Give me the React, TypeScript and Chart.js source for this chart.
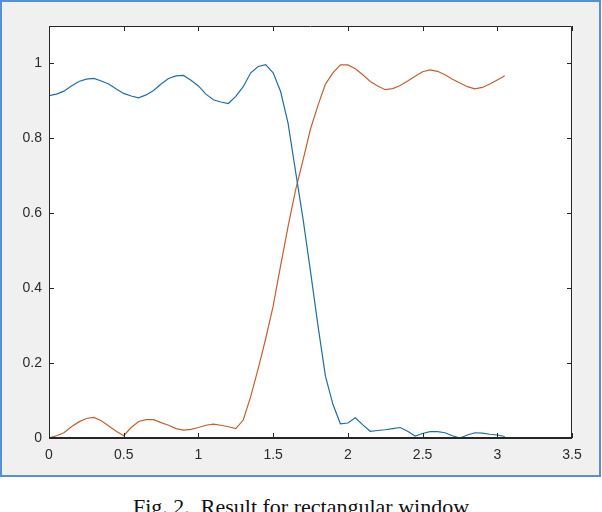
import React, { useEffect, useRef } from "react";
import { Chart, registerables } from "chart.js";

Chart.register(...registerables);

const xValues = [
  0.0, 0.05, 0.1, 0.15, 0.2, 0.25, 0.3, 0.35, 0.4, 0.45, 0.5, 0.55, 0.6, 0.65, 0.7, 0.75,
  0.8, 0.85, 0.9, 0.95, 1.0, 1.05, 1.1, 1.15, 1.2, 1.25, 1.3, 1.35, 1.4, 1.45, 1.5, 1.55,
  1.6, 1.65, 1.7, 1.75, 1.8, 1.85, 1.9, 1.95, 2.0, 2.05, 2.1, 2.15, 2.2, 2.25, 2.3, 2.35,
  2.4, 2.45, 2.5, 2.55, 2.6, 2.65, 2.7, 2.75, 2.8, 2.85, 2.9, 2.95, 3.0, 3.05,
];

const blueSeries = [
  0.914, 0.918, 0.926, 0.94, 0.952, 0.958, 0.96, 0.953, 0.945, 0.932, 0.92, 0.913, 0.908, 0.916, 0.928, 0.945,
  0.96, 0.967, 0.968, 0.955, 0.94, 0.918, 0.903, 0.897, 0.893, 0.912, 0.938, 0.975, 0.992, 0.997, 0.975, 0.925,
  0.84, 0.712, 0.585, 0.445, 0.3, 0.165, 0.09, 0.038, 0.04, 0.054, 0.035, 0.018, 0.02, 0.022, 0.025, 0.028,
  0.018, 0.005, 0.012, 0.017, 0.017, 0.014, 0.006, 0.0, 0.008, 0.014, 0.013, 0.01, 0.008, 0.004,
];

const orangeSeries = [
  0.0, 0.006, 0.014, 0.03, 0.043, 0.052, 0.055, 0.046, 0.032, 0.018, 0.006, 0.028, 0.044, 0.049, 0.049, 0.041,
  0.034, 0.025, 0.021, 0.023, 0.028, 0.034, 0.037, 0.034, 0.03, 0.025, 0.048, 0.111, 0.185, 0.265, 0.352, 0.46,
  0.565, 0.662, 0.742, 0.825, 0.888, 0.945, 0.975, 0.996, 0.996, 0.986, 0.97, 0.952, 0.94, 0.93, 0.933, 0.941,
  0.953, 0.966, 0.978, 0.983, 0.979, 0.97, 0.958, 0.948, 0.938, 0.932, 0.936, 0.945, 0.956, 0.967,
];

const xTicks = [0, 0.5, 1, 1.5, 2, 2.5, 3, 3.5];
const yTicks = [0, 0.2, 0.4, 0.6, 0.8, 1];
const caption = "Fig. 2.\u00a0\u00a0Result for rectangular window";

const boxPlugin = {
  id: "matlabBox",
  beforeDatasetsDraw(chart: any) {
    const { ctx, chartArea } = chart;
    ctx.save();
    ctx.fillStyle = "#ffffff";
    ctx.fillRect(chartArea.left, chartArea.top, chartArea.right - chartArea.left, chartArea.bottom - chartArea.top);
    ctx.restore();
  },
  afterDraw(chart: any) {
    const { ctx, chartArea } = chart;
    const { left, right, top, bottom } = chartArea;
    const xs = chart.scales.x;
    const ys = chart.scales.y;
    ctx.save();
    ctx.strokeStyle = "#262626";
    ctx.lineWidth = 1;
    ctx.beginPath();
    ctx.moveTo(left + 0.5, bottom);
    ctx.lineTo(left + 0.5, top + 0.5);
    ctx.lineTo(right - 0.5, top + 0.5);
    ctx.lineTo(right - 0.5, bottom);
    const tl = 5;
    for (const t of xTicks) {
      const px = Math.round(xs.getPixelForValue(t)) + 0.5;
      ctx.moveTo(px, bottom);
      ctx.lineTo(px, bottom - tl);
      ctx.moveTo(px, top);
      ctx.lineTo(px, top + tl);
    }
    for (const t of yTicks) {
      const py = Math.round(ys.getPixelForValue(t)) + 0.5;
      ctx.moveTo(left, py);
      ctx.lineTo(left + tl, py);
      ctx.moveTo(right, py);
      ctx.lineTo(right - tl, py);
    }
    ctx.stroke();
    ctx.lineWidth = 2;
    ctx.beginPath();
    ctx.moveTo(left, bottom);
    ctx.lineTo(right, bottom);
    ctx.stroke();
    ctx.restore();
  },
};

export default function App() {
  const ref = useRef<HTMLCanvasElement | null>(null);

  useEffect(() => {
    if (!ref.current) return;
    const chart = new Chart(ref.current, {
      type: "line",
      data: {
        datasets: [
          {
            data: xValues.map((x, i) => ({ x, y: blueSeries[i] })),
            borderColor: "#1f6fa3",
            borderWidth: 1.2,
            pointRadius: 0,
            tension: 0,
          },
          {
            data: xValues.map((x, i) => ({ x, y: orangeSeries[i] })),
            borderColor: "#c4602f",
            borderWidth: 1.2,
            pointRadius: 0,
            tension: 0,
          },
        ],
      },
      options: {
        animation: false,
        responsive: false,
        maintainAspectRatio: false,
        layout: { padding: { left: 0, top: 26, right: 30, bottom: 0 } },
        plugins: { legend: { display: false }, tooltip: { enabled: false } },
        scales: {
          x: {
            type: "linear",
            min: 0,
            max: 3.5,
            afterBuildTicks: (s: any) => {
              s.ticks = xTicks.map((v) => ({ value: v }));
            },
            afterFit: (s: any) => {
              s.height = 40;
            },
            grid: { display: false, drawTicks: false },
            border: { display: false },
            ticks: {
              padding: 9,
              color: "#2b2b2b",
              font: { family: "'Liberation Sans', Arial, sans-serif", size: 14 },
              callback: (v: any) => String(v),
            },
          },
          y: {
            type: "linear",
            min: 0,
            max: 1.1,
            afterBuildTicks: (s: any) => {
              s.ticks = yTicks.map((v) => ({ value: v }));
            },
            afterFit: (s: any) => {
              s.width = 49;
            },
            grid: { display: false, drawTicks: false },
            border: { display: false },
            ticks: {
              padding: 7,
              color: "#2b2b2b",
              font: { family: "'Liberation Sans', Arial, sans-serif", size: 14 },
              callback: (v: any) => String(v),
            },
          },
        },
      },
      plugins: [boxPlugin],
    });
    return () => chart.destroy();
  }, []);

  return (
    <div style={{ position: "fixed", left: 0, top: 0, width: 602, height: 512, background: "#ffffff", overflow: "hidden" }}>
      <div
        style={{
          position: "absolute",
          left: 0,
          top: 0,
          width: 601,
          height: 477,
          boxSizing: "border-box",
          border: "2px solid #5b8dd3",
          background: "#f0f0f0",
        }}
      />
      <canvas ref={ref} width={602} height={478} style={{ position: "absolute", left: 0, top: 0, width: 602, height: 478 }} />
      <div
        style={{
          position: "absolute",
          left: 0,
          top: 496,
          width: 602,
          textAlign: "center",
          fontFamily: "'Liberation Serif', 'Times New Roman', serif",
          fontSize: 22,
          lineHeight: "22px",
          color: "#111111",
          whiteSpace: "pre",
        }}
      >
        {caption}
      </div>
    </div>
  );
}
